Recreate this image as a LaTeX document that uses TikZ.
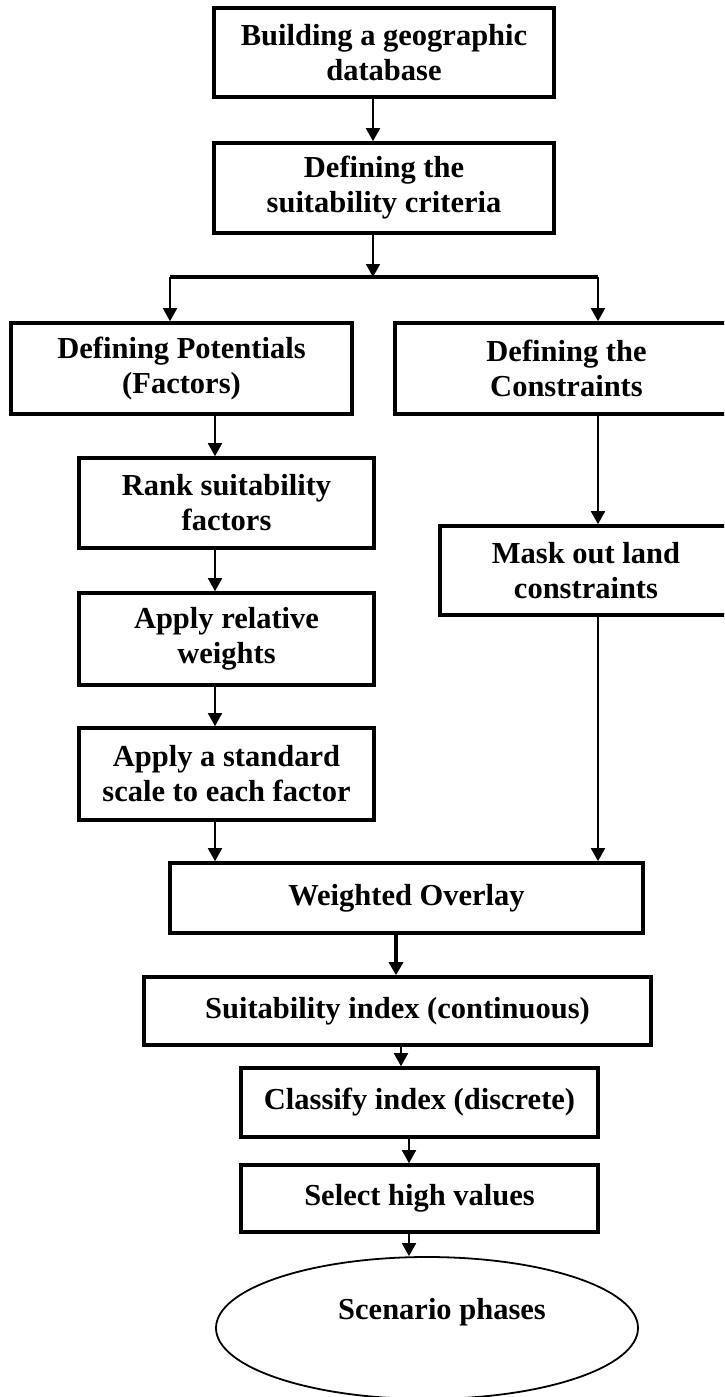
\documentclass[tikz,border=0pt]{standalone}
\usepackage{fontspec}
\setmainfont{Liberation Serif}
\usepackage{tikz}
\usetikzlibrary{arrows.meta,shapes.geometric}

\begin{document}
\begin{tikzpicture}[x=0.5pt, y=-0.5pt,
		>={Triangle[length=6.5pt,width=7pt]},
		box/.style={draw, line width=1.8pt, inner sep=0pt, align=center,
			font=\bfseries\fontsize{15.25}{17.5}\selectfont},
		arr/.style={->, line width=0.9pt},
		txt/.style={font=\bfseries\fontsize{15.25}{17.5}\selectfont}]
		\useasboundingbox (0,0) rectangle (724,1397);
		\clip (0,0) rectangle (724,1397);

		% top of the chart
		\node[box, minimum width=170pt, minimum height=44.5pt] (geo) at (384,52.5) {Building a geographic\\database};
		\node[box, minimum width=170pt, minimum height=45pt] (crit) at (384,188) {Defining the\\suitability criteria};

		% the two branches
		\node[box, minimum width=170.5pt, minimum height=45.5pt] (pot) at (181.5,368.5) {Defining Potentials\\(Factors)};
		\node[box, minimum width=171.5pt, minimum height=45.5pt] (con) at (566.5,368.5) {Defining the\\Constraints};
		\node[box, minimum width=147.5pt, minimum height=45pt] (rank) at (226.5,503) {Rank suitability\\factors};
		\node[box, minimum width=147.5pt, minimum height=46pt] (wgt) at (226.5,639) {Apply relative\\weights};
		\node[box, minimum width=147.5pt, minimum height=46pt] (std) at (226.5,774) {Apply a standard\\scale to each factor};
		\node[box, minimum width=146pt, minimum height=44.5pt] (mask) at (586,570.5) {Mask out land\\constraints};

		% bottom of the chart
		\node[box, minimum width=236.5pt, minimum height=35pt] (over) at (406.5,898) {Weighted Overlay};
		\node[box, minimum width=253.5pt, minimum height=34pt] (idx) at (397.5,1011) {Suitability index (continuous)};
		\node[box, minimum width=178.5pt, minimum height=34.5pt] (cls) at (419.5,1102.5) {Classify index (discrete)};
		\node[box, minimum width=178.5pt, minimum height=33.5pt] (sel) at (419.5,1198.5) {Select high values};
		\node[draw, ellipse, line width=0.9pt, minimum width=211pt, minimum height=71pt] (scen) at (427,1328) {};
		\node[txt] (scentxt) at (442,1312) {Scenario phases};

		\coordinate (split) at (373,277);
		\coordinate (barL) at (170,277);
		\coordinate (barR) at (598,277);
		\coordinate (lx) at (215,0);
		\coordinate (rx) at (598,0);

		\draw[arr] ([xshift=-5.5pt]geo.south) -- ([xshift=-5.5pt]crit.north);
		\draw[arr] ([xshift=-5.5pt]crit.south) -- (split);
		\draw[line width=2.4pt] (barL) -- (barR);
		\draw[arr] (barL) -- (barL |- pot.north);
		\draw[arr] (barR) -- (barR |- con.north);

		\draw[arr] (pot.south -| lx) -- (rank.north -| lx);
		\draw[arr] (rank.south -| lx) -- (wgt.north -| lx);
		\draw[arr] (wgt.south -| lx) -- (std.north -| lx);
		\draw[arr] (std.south -| lx) -- (over.north -| lx);
		\draw[arr] (con.south -| rx) -- (mask.north -| rx);
		\draw[arr] (mask.south -| rx) -- (over.north -| rx);

		\draw[arr, line width=1.6pt] ([xshift=-5.25pt]over.south) -- ([xshift=-5.25pt]over.south |- idx.north);
		\draw[arr] ([xshift=1.75pt]idx.south) -- ([xshift=1.75pt]idx.south |- cls.north);
		\draw[arr] ([xshift=-5.25pt]cls.south) -- ([xshift=-5.25pt]sel.north);
		\draw[arr] ([xshift=-5.25pt]sel.south) -- ([xshift=-5.25pt]sel.south |- scen.north);
	\end{tikzpicture}
\end{document}
